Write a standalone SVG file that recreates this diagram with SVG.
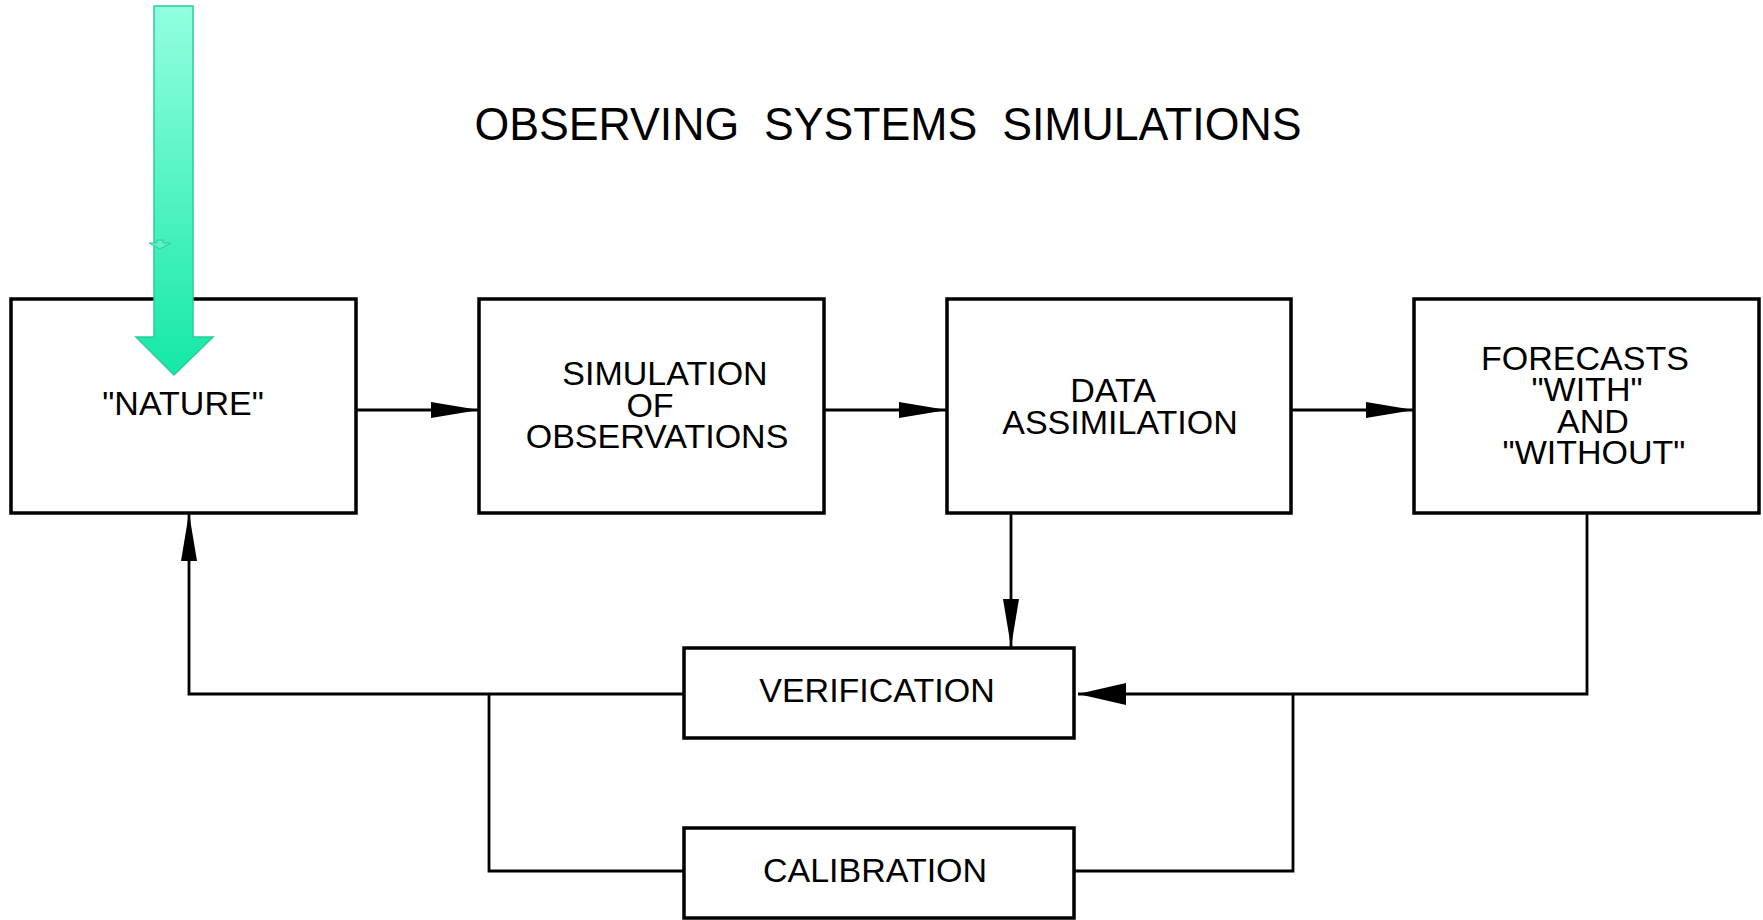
<svg xmlns="http://www.w3.org/2000/svg" width="1763" height="920" viewBox="0 0 1763 920">
<style>
.box{fill:#fff;stroke:#000;stroke-width:3.5}
.lbl{font-family:"Liberation Sans",Arial,sans-serif;font-size:34px;fill:#000;text-anchor:middle}
.title{font-family:"Liberation Sans",Arial,sans-serif;font-size:46px;fill:#000;text-anchor:middle;white-space:pre}
.con{fill:none;stroke:#000;stroke-width:2.8}
</style>
<defs>
<marker id="ah" markerUnits="userSpaceOnUse" markerWidth="48" markerHeight="16" refX="48" refY="8" orient="auto" viewBox="0 0 48 16">
<path d="M0,0 L48,8 L0,16 z" fill="#000"/>
</marker>
<marker id="ahw" markerUnits="userSpaceOnUse" markerWidth="48" markerHeight="22" refX="48" refY="11" orient="auto" viewBox="0 0 48 22">
<path d="M0,0 L48,11 L0,22 z" fill="#000"/>
</marker>
<linearGradient id="gg" x1="0" y1="0" x2="0" y2="1">
<stop offset="0" stop-color="#93FFDF"/>
<stop offset="1" stop-color="#14E8A6"/>
</linearGradient>
</defs>

<text class="title" x="888" y="140" textLength="827" lengthAdjust="spacingAndGlyphs">OBSERVING  SYSTEMS  SIMULATIONS</text>

<g id="connectors">
<path class="con" d="M356,410 L479,410" marker-end="url(#ah)"/>
<path class="con" d="M824,410 L947,410" marker-end="url(#ah)"/>
<path class="con" d="M1291,410 L1414,410" marker-end="url(#ah)"/>
<path class="con" d="M1011,513 L1011,647" marker-end="url(#ah)"/>
<path class="con" d="M1587,513 L1587,694 L1078,694" marker-end="url(#ahw)"/>
<path class="con" d="M1293,694 L1293,871 L1074,871"/>
<path class="con" d="M684,694 L189,694 L189,513" marker-end="url(#ah)"/>
<path class="con" d="M489,694 L489,871 L684,871"/>
</g>

<g id="nature">
<rect class="box" x="11" y="299" width="345" height="214"/>
<text class="lbl" x="183" y="415">"NATURE"</text>
</g>

<g id="simulation">
<rect class="box" x="479" y="299" width="345" height="214"/>
<text class="lbl" x="665" y="385">SIMULATION</text>
<text class="lbl" x="650" y="417">OF</text>
<text class="lbl" x="657" y="448">OBSERVATIONS</text>
</g>

<g id="assimilation">
<rect class="box" x="947" y="299" width="344" height="214"/>
<text class="lbl" x="1113" y="402">DATA</text>
<text class="lbl" x="1120" y="434">ASSIMILATION</text>
</g>

<g id="forecasts">
<rect class="box" x="1414" y="299" width="345" height="214"/>
<text class="lbl" x="1585" y="370">FORECASTS</text>
<text class="lbl" x="1587" y="401">"WITH"</text>
<text class="lbl" x="1593" y="433">AND</text>
<text class="lbl" x="1594" y="464">"WITHOUT"</text>
</g>

<g id="verification">
<rect class="box" x="684" y="648" width="390" height="90"/>
<text class="lbl" x="877" y="702">VERIFICATION</text>
</g>

<g id="calibration">
<rect class="box" x="684" y="828" width="390" height="90"/>
<text class="lbl" x="875" y="882">CALIBRATION</text>
</g>

<g id="green-arrow">
<path d="M154,6 L193,6 L193,337 L213,337 L174,375 L136,337 L154,337 Z" fill="url(#gg)" stroke="#2CCB9C" stroke-width="1.5"/>
<path d="M149,243 L157,243 L157,240 L163,240 L163,243 L171,243 L160,249 Z" fill="#5FEFC0" stroke="#2CCB9C" stroke-width="1"/>
</g>
</svg>
